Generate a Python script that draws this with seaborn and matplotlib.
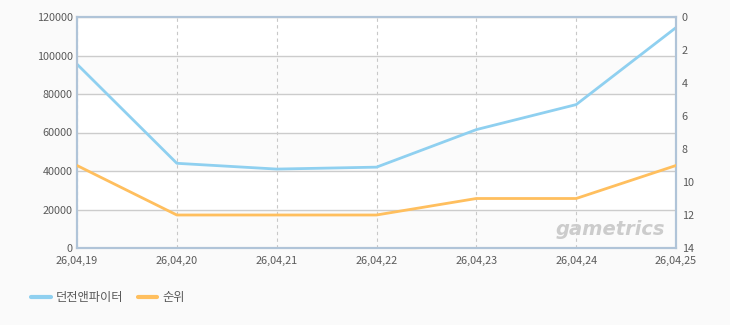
import matplotlib
matplotlib.use("Agg")
import matplotlib.pyplot as plt
import seaborn as sns
import pandas as pd
from matplotlib.lines import Line2D

dates = ["26,04,19", "26,04,20", "26,04,21", "26,04,22", "26,04,23", "26,04,24", "26,04,25"]
users = [95500, 44000, 41000, 42000, 61500, 74500, 114500]
rank = [9, 12, 12, 12, 11, 11, 9]
left_ticks = [0, 20000, 40000, 60000, 80000, 100000, 120000]
right_ticks = [0, 2, 4, 6, 8, 10, 12, 14]
series_names = ["던전앤파이터", "순위"]

sns.set_theme(style="white")
plt.rcParams['font.family'] = ['Noto Sans CJK KR', 'DejaVu Sans']

BLUE = "#8fd0f0"
ORANGE = "#ffbf5e"
SPINE = "#b0c4d8"
TXT = "#5a5a5a"

df = pd.DataFrame({"pos": range(len(dates)), "users": users, "rank": rank})

fig = plt.figure(figsize=(7.3, 3.25), dpi=100)
fig.patch.set_facecolor("#fafafa")
ax = fig.add_axes([77/730, 1-248/325, (676-77)/730, (248-17)/325])
ax.set_facecolor("white")

# subtle bands
for i in range(0, len(left_ticks) - 1, 2):
    ax.axhspan(left_ticks[i], left_ticks[i+1], color="#fbfbfb", zorder=0, lw=0)

sns.lineplot(data=df, x="pos", y="users", ax=ax, color=BLUE, lw=2, zorder=3, legend=False)
ax.set_ylim(0, 120000)
ax.set_xlim(0, len(dates) - 1)
ax.set_yticks(left_ticks)
ax.set_yticklabels([str(v) for v in left_ticks])
ax.set_xticks(range(len(dates)))
ax.set_xticklabels(dates)
ax.grid(axis="y", color="#cccccc", lw=1, ls="-")
ax.grid(axis="x", color="#c8c8c8", lw=0.8, ls=(0, (3, 3)))
ax.set_xlabel("")
ax.set_ylabel("")
ax.tick_params(axis="y", length=0, labelsize=7.8, labelcolor=TXT, pad=3)
ax.tick_params(axis="x", length=0, labelsize=7.8, labelcolor=TXT, pad=6)

ax2 = ax.twinx()
sns.lineplot(data=df, x="pos", y="rank", ax=ax2, color=ORANGE, lw=2, zorder=3, legend=False)
ax2.set_ylim(14, 0)
ax2.set_yticks(right_ticks)
ax2.set_yticklabels([str(v) for v in right_ticks])
ax2.set_ylabel("")
ax2.tick_params(axis="y", length=0, labelsize=7.8, labelcolor=TXT, pad=4)
ax2.grid(False)

for a in (ax, ax2):
    for s in a.spines.values():
        s.set_color(SPINE)
        s.set_linewidth(1.5)

ax.text(0.982, 0.04, "gametrics", transform=ax.transAxes, ha="right", va="bottom",
        fontsize=14, fontstyle="italic", fontweight="bold", color="#cccccc",
        family="DejaVu Sans", zorder=1)

handles = [Line2D([0], [0], color=BLUE, lw=3), Line2D([0], [0], color=ORANGE, lw=3)]
leg = fig.legend(handles, series_names, loc="lower left", bbox_to_anchor=(20/730, 10/325),
                 ncol=2, frameon=False, fontsize=8.8, handlelength=1.6, columnspacing=1.2,
                 handletextpad=0.4)
for t in leg.get_texts():
    t.set_color(TXT)

fig.savefig("out.png", dpi=100, facecolor=fig.get_facecolor())
